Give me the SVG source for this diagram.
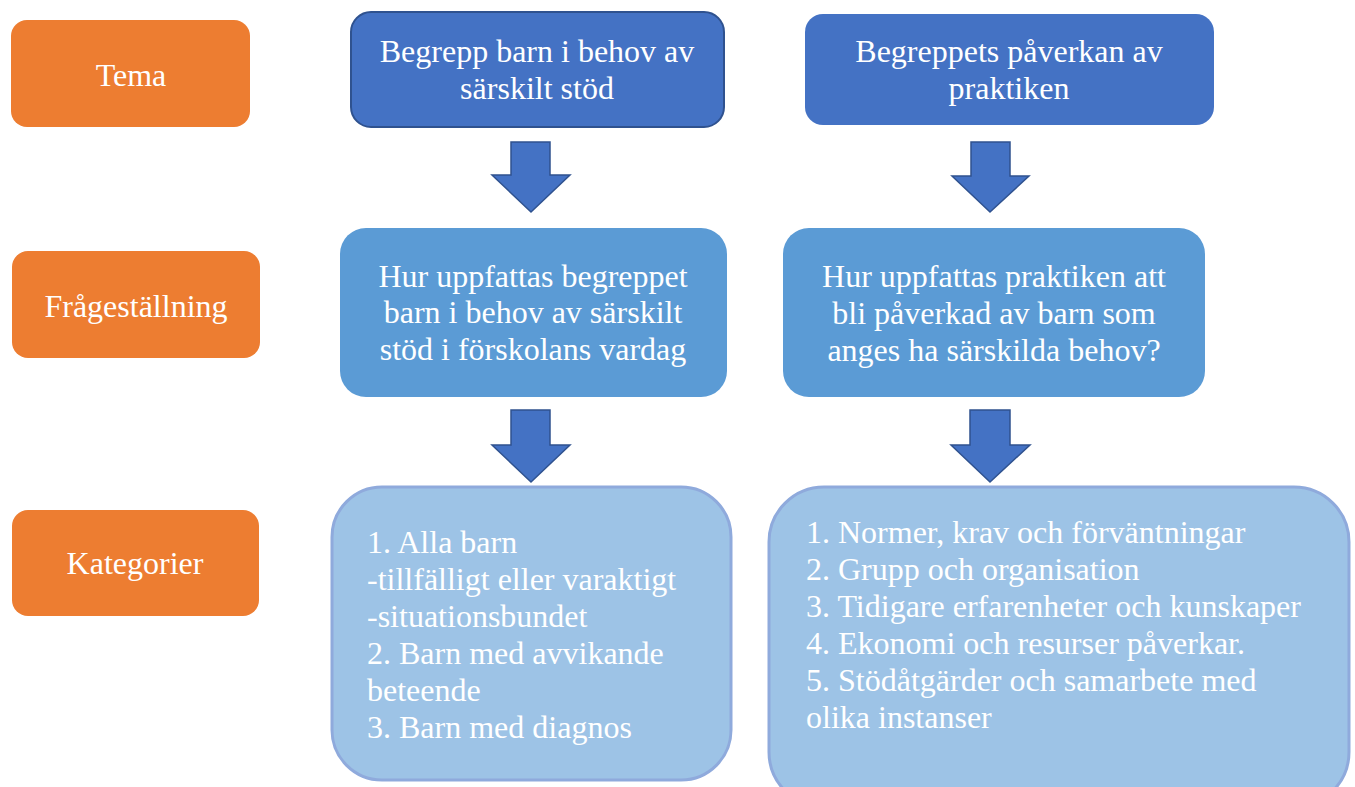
<svg xmlns="http://www.w3.org/2000/svg" width="1355" height="787" viewBox="0 0 1355 787">
<style>
text{font-family:"Liberation Serif","Times New Roman",serif;font-size:32px;fill:#fff}
.c{text-anchor:middle}
.or{fill:#ED7D31}
.b1{fill:#4472C4}
.b2{fill:#5B9BD5}
.b3{fill:#9DC3E6;stroke:#8FAADC;stroke-width:3}
.arr{fill:#4472C4;stroke:#2F528F;stroke-width:1.5}
</style>
<rect width="1355" height="787" fill="#fff"/>
<g id="tema"><rect class="or" x="11" y="20" width="239" height="107" rx="16"/><text class="c" x="131" y="86">Tema</text></g>
<g id="fragestallning"><rect class="or" x="12" y="251" width="248" height="107" rx="16"/><text class="c" x="136" y="317">Frågeställning</text></g>
<g id="kategorier"><rect class="or" x="12" y="510" width="247" height="106" rx="16"/><text class="c" x="135" y="574">Kategorier</text></g>
<g id="tema1"><rect class="b1" x="351" y="12" width="373" height="115" rx="20" stroke="#2F528F" stroke-width="2"/><text class="c" x="537" y="62">Begrepp barn i behov av</text><text class="c" x="537" y="99">särskilt stöd</text></g>
<g id="tema2"><rect class="b1" x="805" y="14" width="409" height="111" rx="18"/><text class="c" x="1009" y="62">Begreppets påverkan av</text><text class="c" x="1009" y="99">praktiken</text></g>
<g id="fraga1"><rect class="b2" x="340" y="228" width="387" height="169" rx="26"/><text class="c" x="533" y="287">Hur uppfattas begreppet</text><text class="c" x="533" y="323">barn i behov av särskilt</text><text class="c" x="533" y="360">stöd i förskolans vardag</text></g>
<g id="fraga2"><rect class="b2" x="783" y="228" width="422" height="169" rx="26"/><text class="c" x="994" y="287">Hur uppfattas praktiken att</text><text class="c" x="994" y="324">bli påverkad av barn som</text><text class="c" x="994" y="361">anges ha särskilda behov?</text></g>
<g id="kat1"><rect class="b3" x="332" y="487" width="399" height="293" rx="50"/>
<text x="367" y="553">1. Alla barn</text><text x="367" y="590">-tillfälligt eller varaktigt</text><text x="367" y="627">-situationsbundet</text><text x="367" y="664">2. Barn med avvikande</text><text x="367" y="701">beteende</text><text x="367" y="738">3. Barn med diagnos</text></g>
<g id="kat2"><rect class="b3" x="769" y="487" width="580" height="320" rx="55"/>
<text x="806" y="543">1. Normer, krav och förväntningar</text><text x="806" y="580">2. Grupp och organisation</text><text x="806" y="617">3. Tidigare erfarenheter och kunskaper</text><text x="806" y="654">4. Ekonomi och resurser påverkar.</text><text x="806" y="691">5. Stödåtgärder och samarbete med</text><text x="806" y="728">olika instanser</text></g>
<g id="connectors">
<path class="arr" d="M511,142 H550 V175 H570 L531,212 L492,175 H511 Z"/>
<path class="arr" d="M971,142 H1010 V176 H1029 L990,212 L952,176 H971 Z"/>
<path class="arr" d="M511,410 H550 V445 H570 L531,482 L492,445 H511 Z"/>
<path class="arr" d="M970,410 H1010 V445 H1030 L990,482 L951,445 H970 Z"/>
</g>
</svg>
